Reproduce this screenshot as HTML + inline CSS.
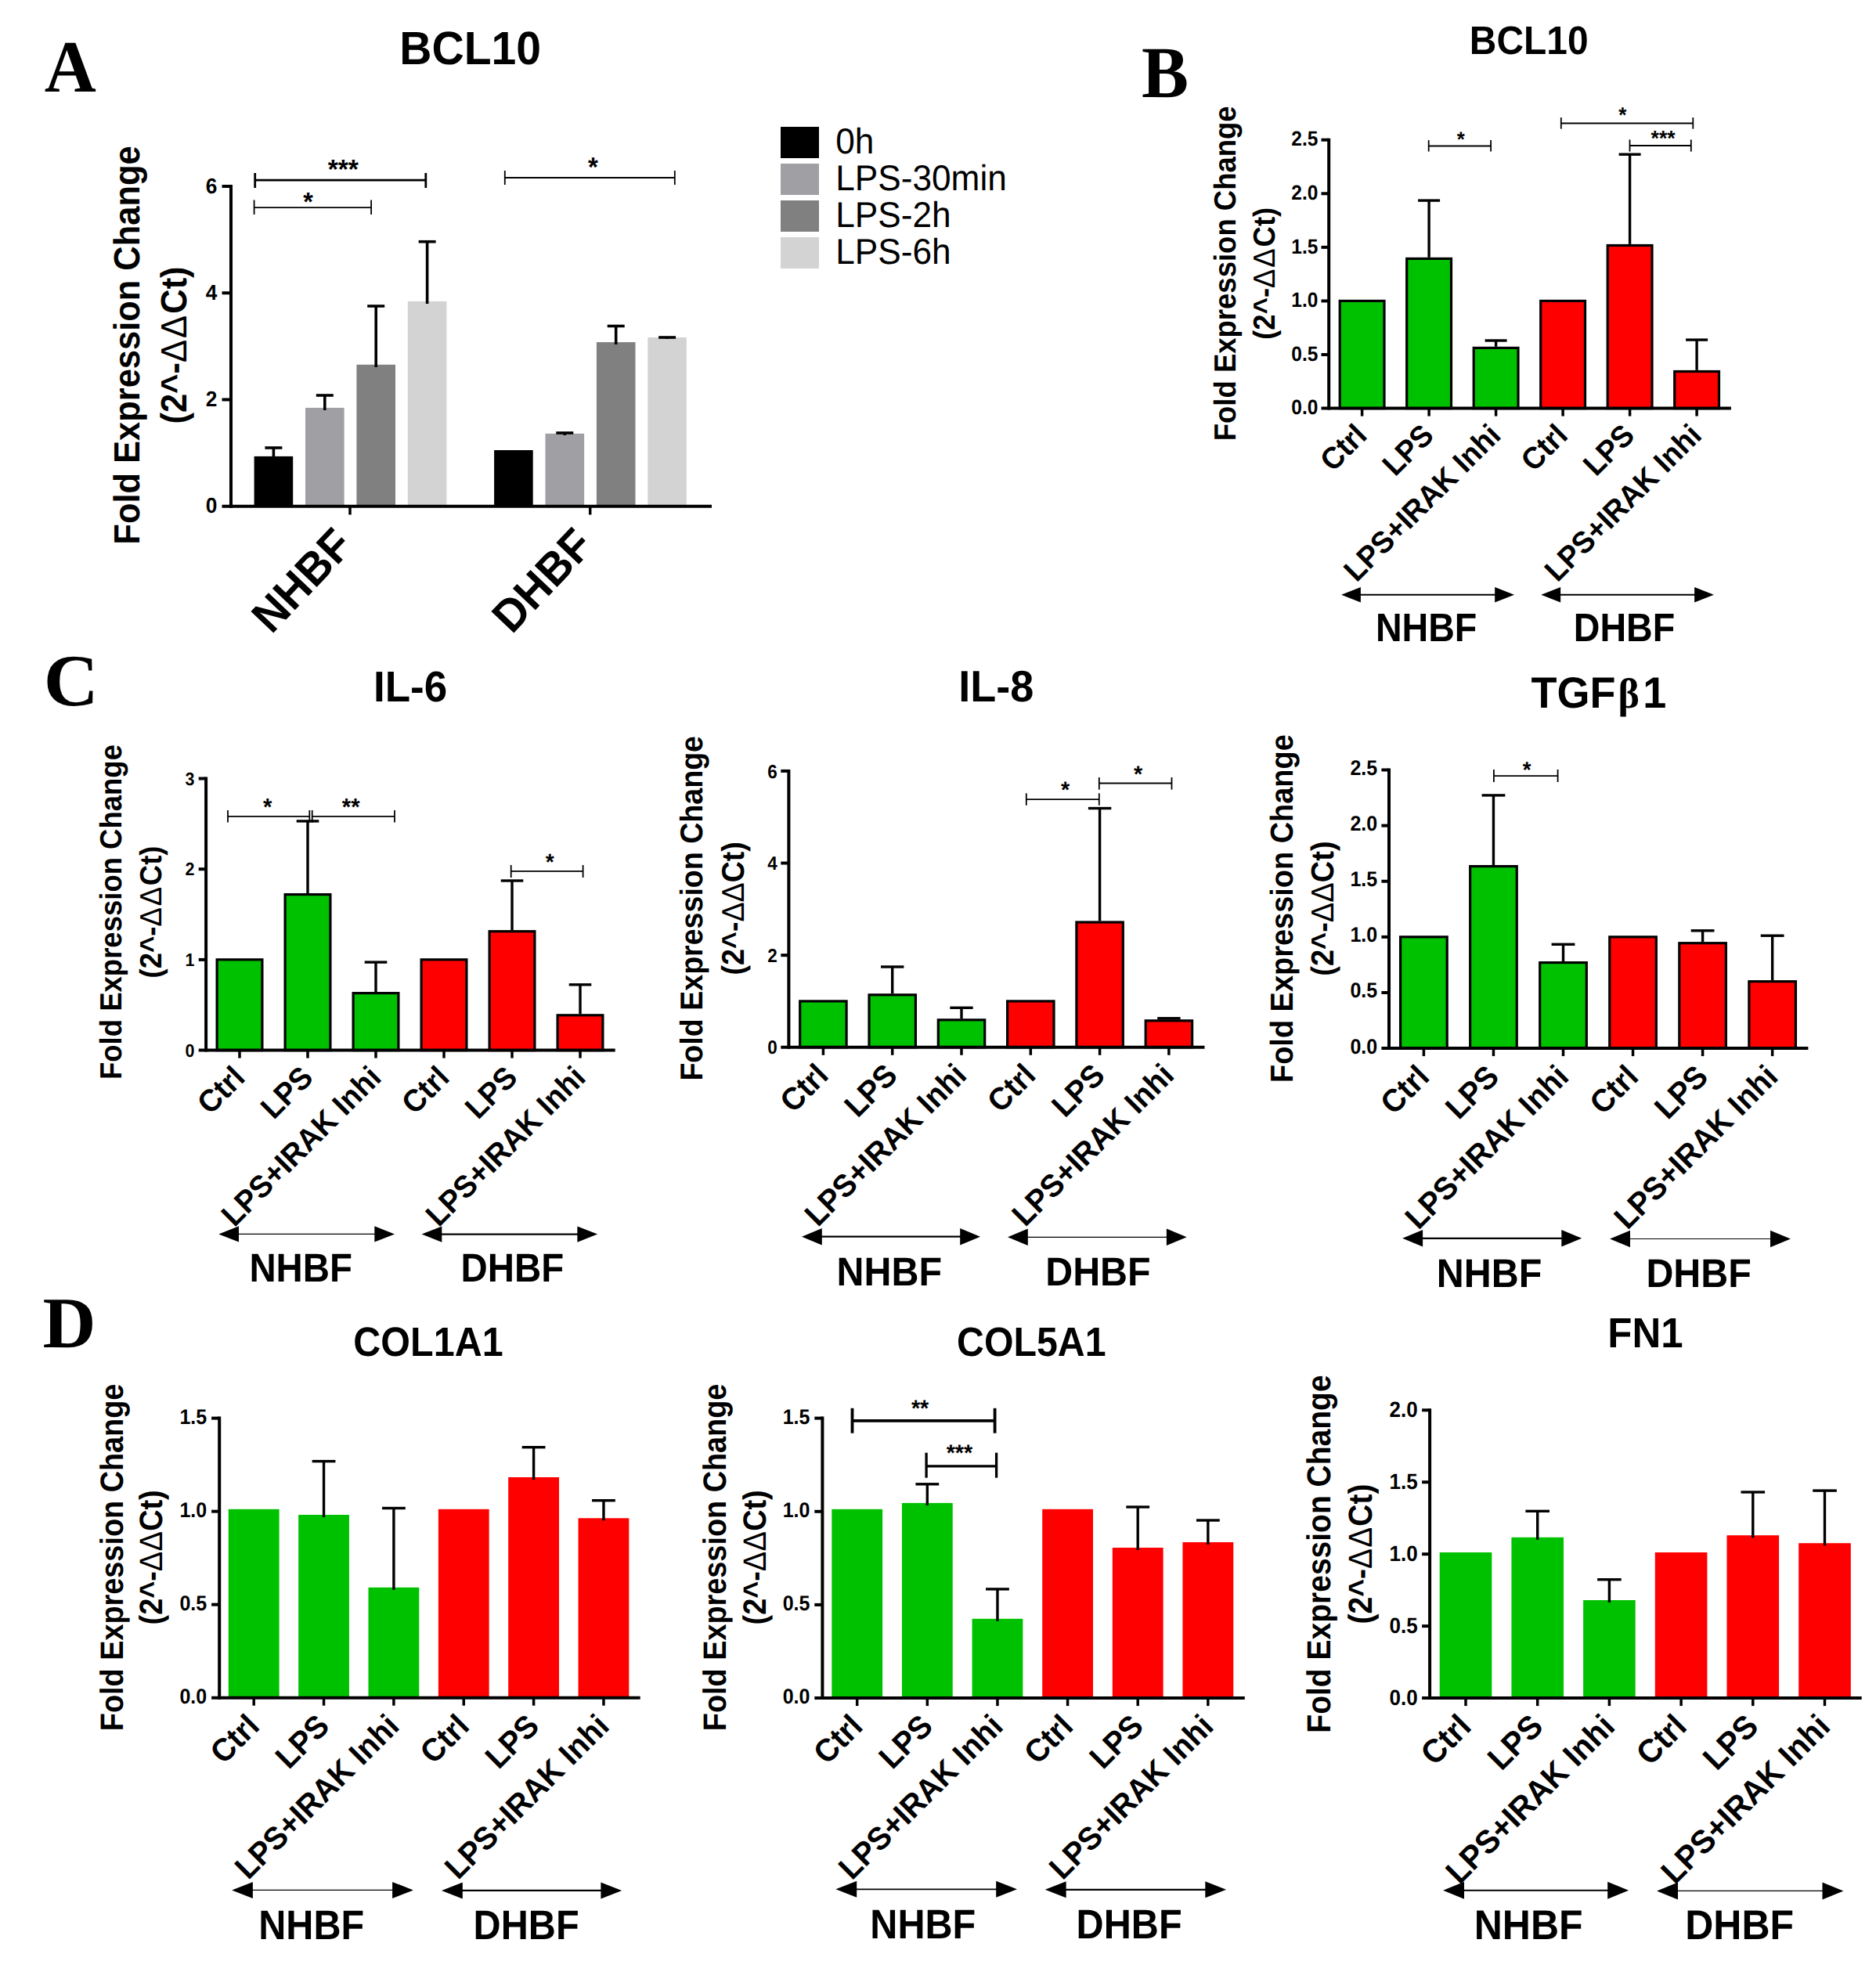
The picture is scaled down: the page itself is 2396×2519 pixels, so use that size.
<!DOCTYPE html>
<html lang="en">
<head>
<meta charset="utf-8">
<title>Figure</title>
<style>
html,body{margin:0;padding:0;background:#fff;}
body{width:2396px;height:2519px;overflow:hidden;}
svg{display:block;}
text{fill:#000;font-kerning:none;}
.s{font-family:"Liberation Sans", Arial, Helvetica, sans-serif;font-weight:bold;}
.r{font-family:"Liberation Serif", "Times New Roman", Times, serif;font-weight:bold;}
</style>
</head>
<body>
<svg width="2396" height="2519" viewBox="0 0 2396 2519" shape-rendering="geometricPrecision" text-rendering="geometricPrecision">
<rect x="0" y="0" width="2396" height="2519" fill="#fff"/>
<text class="r" transform="translate(56.8 116.9) scale(1 1.03)" font-size="91.5">A</text>
<text class="r" transform="translate(1458 124) scale(1 1.04)" font-size="90">B</text>
<text class="r" transform="translate(55.75 900.7) scale(1.078 1.045)" font-size="90">C</text>
<text class="r" transform="translate(54.6 1720.8) scale(1.047 1.032)" font-size="90">D</text>
<rect x="324.6" y="582.9" width="49.6" height="63.8" fill="#000000"/>
<rect x="390" y="520.9" width="49.6" height="125.8" fill="#A0A0A4"/>
<rect x="455.4" y="465.8" width="49.6" height="180.9" fill="#808080"/>
<rect x="520.8" y="384.9" width="49.6" height="261.8" fill="#D3D3D3"/>
<rect x="631.1" y="575" width="49.6" height="71.7" fill="#000000"/>
<rect x="696.5" y="553.9" width="49.6" height="92.8" fill="#A0A0A4"/>
<rect x="761.9" y="437.1" width="49.6" height="209.6" fill="#808080"/>
<rect x="827.3" y="431" width="49.6" height="215.7" fill="#D3D3D3"/>
<line x1="349.4" y1="572" x2="349.4" y2="585" stroke="#000" stroke-width="3.6" stroke-linecap="butt"/>
<line x1="338.4" y1="572" x2="360.4" y2="572" stroke="#000" stroke-width="3.6" stroke-linecap="butt"/>
<line x1="414.8" y1="505" x2="414.8" y2="524" stroke="#000" stroke-width="3.6" stroke-linecap="butt"/>
<line x1="403.8" y1="505" x2="425.8" y2="505" stroke="#000" stroke-width="3.6" stroke-linecap="butt"/>
<line x1="480.2" y1="391" x2="480.2" y2="469" stroke="#000" stroke-width="3.6" stroke-linecap="butt"/>
<line x1="469.2" y1="391" x2="491.2" y2="391" stroke="#000" stroke-width="3.6" stroke-linecap="butt"/>
<line x1="545.6" y1="308.7" x2="545.6" y2="388" stroke="#000" stroke-width="3.6" stroke-linecap="butt"/>
<line x1="534.6" y1="308.7" x2="556.6" y2="308.7" stroke="#000" stroke-width="3.6" stroke-linecap="butt"/>
<line x1="721.3" y1="553" x2="721.3" y2="556" stroke="#000" stroke-width="3.6" stroke-linecap="butt"/>
<line x1="710.3" y1="553" x2="732.3" y2="553" stroke="#000" stroke-width="3.6" stroke-linecap="butt"/>
<line x1="786.7" y1="416.5" x2="786.7" y2="440" stroke="#000" stroke-width="3.6" stroke-linecap="butt"/>
<line x1="775.7" y1="416.5" x2="797.7" y2="416.5" stroke="#000" stroke-width="3.6" stroke-linecap="butt"/>
<line x1="852.1" y1="431" x2="852.1" y2="433" stroke="#000" stroke-width="3.6" stroke-linecap="butt"/>
<line x1="841.1" y1="431" x2="863.1" y2="431" stroke="#000" stroke-width="3.6" stroke-linecap="butt"/>
<line x1="295" y1="236" x2="295" y2="648.7" stroke="#000" stroke-width="4" stroke-linecap="butt"/>
<line x1="283.5" y1="646.7" x2="909" y2="646.7" stroke="#000" stroke-width="4" stroke-linecap="butt"/>
<text class="s" transform="translate(277.3 655.45) scale(1 1.045)" font-size="26.3" text-anchor="end">0</text>
<line x1="283.5" y1="510.47" x2="295" y2="510.47" stroke="#000" stroke-width="4" stroke-linecap="butt"/>
<text class="s" transform="translate(277.3 519.22) scale(1 1.045)" font-size="26.3" text-anchor="end">2</text>
<line x1="283.5" y1="374.23" x2="295" y2="374.23" stroke="#000" stroke-width="4" stroke-linecap="butt"/>
<text class="s" transform="translate(277.3 382.99) scale(1 1.045)" font-size="26.3" text-anchor="end">4</text>
<line x1="283.5" y1="238" x2="295" y2="238" stroke="#000" stroke-width="4" stroke-linecap="butt"/>
<text class="s" transform="translate(277.3 246.75) scale(1 1.045)" font-size="26.3" text-anchor="end">6</text>
<line x1="447" y1="646.7" x2="447" y2="657.5" stroke="#000" stroke-width="3.5" stroke-linecap="butt"/>
<line x1="753.7" y1="646.7" x2="753.7" y2="657.5" stroke="#000" stroke-width="3.5" stroke-linecap="butt"/>
<line x1="325.7" y1="230.1" x2="543.8" y2="230.1" stroke="#000" stroke-width="2.8" stroke-linecap="butt"/>
<line x1="325.7" y1="221" x2="325.7" y2="240" stroke="#000" stroke-width="2.8" stroke-linecap="butt"/>
<line x1="543.8" y1="221" x2="543.8" y2="240" stroke="#000" stroke-width="2.8" stroke-linecap="butt"/>
<line x1="324.6" y1="265.2" x2="474.1" y2="265.2" stroke="#000" stroke-width="1.8" stroke-linecap="butt"/>
<line x1="324.6" y1="255.5" x2="324.6" y2="274" stroke="#000" stroke-width="1.8" stroke-linecap="butt"/>
<line x1="474.1" y1="255.5" x2="474.1" y2="274" stroke="#000" stroke-width="1.8" stroke-linecap="butt"/>
<line x1="644.8" y1="227" x2="861.8" y2="227" stroke="#000" stroke-width="1.8" stroke-linecap="butt"/>
<line x1="644.8" y1="218" x2="644.8" y2="236" stroke="#000" stroke-width="1.8" stroke-linecap="butt"/>
<line x1="861.8" y1="218" x2="861.8" y2="236" stroke="#000" stroke-width="1.8" stroke-linecap="butt"/>
<text class="s" transform="translate(438.3 228.14) scale(1 1.04)" font-size="33.6" text-anchor="middle">***</text>
<text class="s" transform="translate(393.6 269.12) scale(1 1.04)" font-size="32.31" text-anchor="middle">*</text>
<text class="s" transform="translate(757.5 224.67) scale(1 1.04)" font-size="33.09" text-anchor="middle">*</text>
<text class="s" transform="translate(600.6 82.1) scale(1 1.045)" font-size="57.1" text-anchor="middle">BCL10</text>
<text class="s" transform="translate(178.2 441) rotate(-90) scale(1 1.07)" font-size="43.45" text-anchor="middle">Fold Expression Change</text>
<text class="s" transform="translate(237.8 441) rotate(-90) scale(1 1.07)" font-size="43.45" text-anchor="middle">(2^-<tspan style="font-weight:normal" letter-spacing="2.17">ΔΔ</tspan>Ct)</text>
<text class="s" transform="translate(453.3 698.9) rotate(-46.5) scale(1 1.04)" font-size="55.8" text-anchor="end">NHBF</text>
<text class="s" transform="translate(760.3 698.9) rotate(-46.5) scale(1 1.04)" font-size="55.8" text-anchor="end">DHBF</text>
<rect x="997" y="162" width="49" height="40" fill="#000000"/>
<text class="s" transform="translate(1067.2 196) scale(1 1.04)" font-size="44.2" style="font-weight:normal">0h</text>
<rect x="997" y="209" width="49" height="40" fill="#A0A0A4"/>
<text class="s" transform="translate(1067.2 243) scale(1 1.04)" font-size="44.2" style="font-weight:normal">LPS-30min</text>
<rect x="997" y="256" width="49" height="40" fill="#808080"/>
<text class="s" transform="translate(1067.2 290) scale(1 1.04)" font-size="44.2" style="font-weight:normal">LPS-2h</text>
<rect x="997" y="303" width="49" height="40" fill="#D3D3D3"/>
<text class="s" transform="translate(1067.2 337) scale(1 1.04)" font-size="44.2" style="font-weight:normal">LPS-6h</text>
<rect x="1711.2" y="384.4" width="56.8" height="137.2" fill="#00C100" stroke="#000" stroke-width="3.2"/>
<rect x="1796.7" y="330.4" width="56.8" height="191.2" fill="#00C100" stroke="#000" stroke-width="3.2"/>
<rect x="1882.2" y="444.4" width="56.8" height="77.2" fill="#00C100" stroke="#000" stroke-width="3.2"/>
<rect x="1967.7" y="384.4" width="56.8" height="137.2" fill="#FF0000" stroke="#000" stroke-width="3.2"/>
<rect x="2053.2" y="313.5" width="56.8" height="208.1" fill="#FF0000" stroke="#000" stroke-width="3.2"/>
<rect x="2138.7" y="474.5" width="56.8" height="47.1" fill="#FF0000" stroke="#000" stroke-width="3.2"/>
<line x1="1825.1" y1="256.1" x2="1825.1" y2="328.8" stroke="#000" stroke-width="3.4" stroke-linecap="butt"/>
<line x1="1811.1" y1="256.1" x2="1839.1" y2="256.1" stroke="#000" stroke-width="3.4" stroke-linecap="butt"/>
<line x1="1910.6" y1="435" x2="1910.6" y2="442.8" stroke="#000" stroke-width="3.4" stroke-linecap="butt"/>
<line x1="1896.6" y1="435" x2="1924.6" y2="435" stroke="#000" stroke-width="3.4" stroke-linecap="butt"/>
<line x1="2081.6" y1="197.2" x2="2081.6" y2="311.9" stroke="#000" stroke-width="3.4" stroke-linecap="butt"/>
<line x1="2067.6" y1="197.2" x2="2095.6" y2="197.2" stroke="#000" stroke-width="3.4" stroke-linecap="butt"/>
<line x1="2167.1" y1="434.1" x2="2167.1" y2="472.9" stroke="#000" stroke-width="3.4" stroke-linecap="butt"/>
<line x1="2153.1" y1="434.1" x2="2181.1" y2="434.1" stroke="#000" stroke-width="3.4" stroke-linecap="butt"/>
<line x1="1697.2" y1="176.7" x2="1697.2" y2="523.6" stroke="#000" stroke-width="4" stroke-linecap="butt"/>
<line x1="1687.5" y1="521.6" x2="2210.9" y2="521.6" stroke="#000" stroke-width="4" stroke-linecap="butt"/>
<text class="s" transform="translate(1683.4 529.3) scale(1 1.08)" font-size="24.5" text-anchor="end">0.0</text>
<line x1="1687.5" y1="453.02" x2="1697.2" y2="453.02" stroke="#000" stroke-width="4" stroke-linecap="butt"/>
<text class="s" transform="translate(1683.4 460.72) scale(1 1.08)" font-size="24.5" text-anchor="end">0.5</text>
<line x1="1687.5" y1="384.44" x2="1697.2" y2="384.44" stroke="#000" stroke-width="4" stroke-linecap="butt"/>
<text class="s" transform="translate(1683.4 392.14) scale(1 1.08)" font-size="24.5" text-anchor="end">1.0</text>
<line x1="1687.5" y1="315.86" x2="1697.2" y2="315.86" stroke="#000" stroke-width="4" stroke-linecap="butt"/>
<text class="s" transform="translate(1683.4 323.56) scale(1 1.08)" font-size="24.5" text-anchor="end">1.5</text>
<line x1="1687.5" y1="247.28" x2="1697.2" y2="247.28" stroke="#000" stroke-width="4" stroke-linecap="butt"/>
<text class="s" transform="translate(1683.4 254.98) scale(1 1.08)" font-size="24.5" text-anchor="end">2.0</text>
<line x1="1687.5" y1="178.7" x2="1697.2" y2="178.7" stroke="#000" stroke-width="4" stroke-linecap="butt"/>
<text class="s" transform="translate(1683.4 186.4) scale(1 1.08)" font-size="24.5" text-anchor="end">2.5</text>
<line x1="1739.6" y1="521.6" x2="1739.6" y2="531.6" stroke="#000" stroke-width="3.5" stroke-linecap="butt"/>
<line x1="1825.1" y1="521.6" x2="1825.1" y2="531.6" stroke="#000" stroke-width="3.5" stroke-linecap="butt"/>
<line x1="1910.6" y1="521.6" x2="1910.6" y2="531.6" stroke="#000" stroke-width="3.5" stroke-linecap="butt"/>
<line x1="1996.1" y1="521.6" x2="1996.1" y2="531.6" stroke="#000" stroke-width="3.5" stroke-linecap="butt"/>
<line x1="2081.6" y1="521.6" x2="2081.6" y2="531.6" stroke="#000" stroke-width="3.5" stroke-linecap="butt"/>
<line x1="2167.1" y1="521.6" x2="2167.1" y2="531.6" stroke="#000" stroke-width="3.5" stroke-linecap="butt"/>
<text class="s" transform="translate(1747.8 558.26) rotate(-45) scale(1 1.04)" font-size="37.5" text-anchor="end">Ctrl</text>
<text class="s" transform="translate(1833.3 558.26) rotate(-45) scale(1 1.04)" font-size="37.5" text-anchor="end">LPS</text>
<text class="s" transform="translate(1918.8 558.26) rotate(-45) scale(1 1.04)" font-size="37.5" text-anchor="end">LPS+IRAK Inhi</text>
<text class="s" transform="translate(2004.3 558.26) rotate(-45) scale(1 1.04)" font-size="37.5" text-anchor="end">Ctrl</text>
<text class="s" transform="translate(2089.8 558.26) rotate(-45) scale(1 1.04)" font-size="37.5" text-anchor="end">LPS</text>
<text class="s" transform="translate(2175.3 558.26) rotate(-45) scale(1 1.04)" font-size="37.5" text-anchor="end">LPS+IRAK Inhi</text>
<line x1="1736.9" y1="759.8" x2="1910.2" y2="759.8" stroke="#000" stroke-width="2" stroke-linecap="butt"/>
<polygon points="1713.1,759.8 1737.9,750.1 1737.9,769.5" fill="#000"/>
<polygon points="1934,759.8 1909.2,750.1 1909.2,769.5" fill="#000"/>
<line x1="1992.1" y1="759.8" x2="2165.1" y2="759.8" stroke="#000" stroke-width="2" stroke-linecap="butt"/>
<polygon points="1968.3,759.8 1993.1,750.1 1993.1,769.5" fill="#000"/>
<polygon points="2188.9,759.8 2164.1,750.1 2164.1,769.5" fill="#000"/>
<text class="s" transform="translate(1821.6 819.3) scale(1 1.09)" font-size="46.6" text-anchor="middle">NHBF</text>
<text class="s" transform="translate(2074.5 819.3) scale(1 1.09)" font-size="46.6" text-anchor="middle">DHBF</text>
<text class="s" transform="translate(1578.2 349.3) rotate(-90) scale(1 1.07)" font-size="36.5" text-anchor="middle">Fold Expression Change</text>
<text class="s" transform="translate(1628 349.3) rotate(-90) scale(1 1.07)" font-size="36.5" text-anchor="middle">(2^-<tspan style="font-weight:normal" letter-spacing="1.83">ΔΔ</tspan>Ct)</text>
<text class="s" transform="translate(1952.7 68.8) scale(1 1.065)" font-size="47.9" text-anchor="middle">BCL10</text>
<line x1="1824.7" y1="186.5" x2="1904.1" y2="186.5" stroke="#000" stroke-width="1.8" stroke-linecap="butt"/>
<line x1="1824.7" y1="179.1" x2="1824.7" y2="193.6" stroke="#000" stroke-width="1.8" stroke-linecap="butt"/>
<line x1="1904.1" y1="179.1" x2="1904.1" y2="193.6" stroke="#000" stroke-width="1.8" stroke-linecap="butt"/>
<line x1="1993.8" y1="157.5" x2="2162.3" y2="157.5" stroke="#000" stroke-width="1.8" stroke-linecap="butt"/>
<line x1="1993.8" y1="150.1" x2="1993.8" y2="164.6" stroke="#000" stroke-width="1.8" stroke-linecap="butt"/>
<line x1="2162.3" y1="150.1" x2="2162.3" y2="164.6" stroke="#000" stroke-width="1.8" stroke-linecap="butt"/>
<line x1="2081.5" y1="186" x2="2159.8" y2="186" stroke="#000" stroke-width="1.8" stroke-linecap="butt"/>
<line x1="2081.5" y1="178.4" x2="2081.5" y2="193.6" stroke="#000" stroke-width="1.8" stroke-linecap="butt"/>
<line x1="2159.8" y1="178.4" x2="2159.8" y2="193.6" stroke="#000" stroke-width="1.8" stroke-linecap="butt"/>
<text class="s" transform="translate(1865.8 187.09) scale(1 1.04)" font-size="25.85" text-anchor="middle">*</text>
<text class="s" transform="translate(2072.3 156.48) scale(1 1.04)" font-size="26.11" text-anchor="middle">*</text>
<text class="s" transform="translate(2124.1 186.35) scale(1 1.04)" font-size="26.62" text-anchor="middle">***</text>
<rect x="277.1" y="1225.8" width="57.8" height="115.8" fill="#00C100" stroke="#000" stroke-width="3.2"/>
<rect x="364.1" y="1142.6" width="57.8" height="199" fill="#00C100" stroke="#000" stroke-width="3.2"/>
<rect x="451.1" y="1268.6" width="57.8" height="73" fill="#00C100" stroke="#000" stroke-width="3.2"/>
<rect x="538.1" y="1225.8" width="57.8" height="115.8" fill="#FF0000" stroke="#000" stroke-width="3.2"/>
<rect x="625.1" y="1189.7" width="57.8" height="151.9" fill="#FF0000" stroke="#000" stroke-width="3.2"/>
<rect x="712.1" y="1296.8" width="57.8" height="44.8" fill="#FF0000" stroke="#000" stroke-width="3.2"/>
<line x1="393" y1="1048.9" x2="393" y2="1141" stroke="#000" stroke-width="3.4" stroke-linecap="butt"/>
<line x1="378.7" y1="1048.9" x2="407.3" y2="1048.9" stroke="#000" stroke-width="3.4" stroke-linecap="butt"/>
<line x1="480" y1="1229.1" x2="480" y2="1267" stroke="#000" stroke-width="3.4" stroke-linecap="butt"/>
<line x1="465.7" y1="1229.1" x2="494.3" y2="1229.1" stroke="#000" stroke-width="3.4" stroke-linecap="butt"/>
<line x1="654" y1="1125" x2="654" y2="1188.1" stroke="#000" stroke-width="3.4" stroke-linecap="butt"/>
<line x1="639.7" y1="1125" x2="668.3" y2="1125" stroke="#000" stroke-width="3.4" stroke-linecap="butt"/>
<line x1="741" y1="1257.8" x2="741" y2="1295.2" stroke="#000" stroke-width="3.4" stroke-linecap="butt"/>
<line x1="726.7" y1="1257.8" x2="755.3" y2="1257.8" stroke="#000" stroke-width="3.4" stroke-linecap="butt"/>
<line x1="263.1" y1="992.5" x2="263.1" y2="1343.6" stroke="#000" stroke-width="4" stroke-linecap="butt"/>
<line x1="253.7" y1="1341.6" x2="785.7" y2="1341.6" stroke="#000" stroke-width="4" stroke-linecap="butt"/>
<text class="s" transform="translate(248.5 1349.79) scale(1 1.08)" font-size="21.5" text-anchor="end">0</text>
<line x1="253.7" y1="1225.9" x2="263.1" y2="1225.9" stroke="#000" stroke-width="4" stroke-linecap="butt"/>
<text class="s" transform="translate(248.5 1234.09) scale(1 1.08)" font-size="21.5" text-anchor="end">1</text>
<line x1="253.7" y1="1110.2" x2="263.1" y2="1110.2" stroke="#000" stroke-width="4" stroke-linecap="butt"/>
<text class="s" transform="translate(248.5 1118.39) scale(1 1.08)" font-size="21.5" text-anchor="end">2</text>
<line x1="253.7" y1="994.5" x2="263.1" y2="994.5" stroke="#000" stroke-width="4" stroke-linecap="butt"/>
<text class="s" transform="translate(248.5 1002.69) scale(1 1.08)" font-size="21.5" text-anchor="end">3</text>
<line x1="306" y1="1341.6" x2="306" y2="1351.6" stroke="#000" stroke-width="3.5" stroke-linecap="butt"/>
<line x1="393" y1="1341.6" x2="393" y2="1351.6" stroke="#000" stroke-width="3.5" stroke-linecap="butt"/>
<line x1="480" y1="1341.6" x2="480" y2="1351.6" stroke="#000" stroke-width="3.5" stroke-linecap="butt"/>
<line x1="567" y1="1341.6" x2="567" y2="1351.6" stroke="#000" stroke-width="3.5" stroke-linecap="butt"/>
<line x1="654" y1="1341.6" x2="654" y2="1351.6" stroke="#000" stroke-width="3.5" stroke-linecap="butt"/>
<line x1="741" y1="1341.6" x2="741" y2="1351.6" stroke="#000" stroke-width="3.5" stroke-linecap="butt"/>
<text class="s" transform="translate(314.93 1378.79) rotate(-45) scale(1 1.04)" font-size="38.2" text-anchor="end">Ctrl</text>
<text class="s" transform="translate(401.93 1378.79) rotate(-45) scale(1 1.04)" font-size="38.2" text-anchor="end">LPS</text>
<text class="s" transform="translate(488.93 1378.79) rotate(-45) scale(1 1.04)" font-size="38.2" text-anchor="end">LPS+IRAK Inhi</text>
<text class="s" transform="translate(575.93 1378.79) rotate(-45) scale(1 1.04)" font-size="38.2" text-anchor="end">Ctrl</text>
<text class="s" transform="translate(662.93 1378.79) rotate(-45) scale(1 1.04)" font-size="38.2" text-anchor="end">LPS</text>
<text class="s" transform="translate(749.93 1378.79) rotate(-45) scale(1 1.04)" font-size="38.2" text-anchor="end">LPS+IRAK Inhi</text>
<line x1="304" y1="1576.4" x2="479.3" y2="1576.4" stroke="#000" stroke-width="1.2" stroke-linecap="butt"/>
<polygon points="279.3,1576.4 305,1566.2 305,1586.6" fill="#000"/>
<polygon points="504,1576.4 478.3,1566.2 478.3,1586.6" fill="#000"/>
<line x1="563.3" y1="1576.6" x2="738.4" y2="1576.6" stroke="#000" stroke-width="2.2" stroke-linecap="butt"/>
<polygon points="538.6,1576.6 564.3,1566.4 564.3,1586.8" fill="#000"/>
<polygon points="763.1,1576.6 737.4,1566.4 737.4,1586.8" fill="#000"/>
<text class="s" transform="translate(384.2 1636.9) scale(1 1.08)" font-size="47.4" text-anchor="middle">NHBF</text>
<text class="s" transform="translate(654.3 1636.9) scale(1 1.08)" font-size="47.4" text-anchor="middle">DHBF</text>
<text class="s" transform="translate(155.3 1165) rotate(-90) scale(1 1.07)" font-size="36.5" text-anchor="middle">Fold Expression Change</text>
<text class="s" transform="translate(206.1 1165) rotate(-90) scale(1 1.07)" font-size="36.5" text-anchor="middle">(2^-<tspan style="font-weight:normal" letter-spacing="1.83">ΔΔ</tspan>Ct)</text>
<text class="s" transform="translate(524.1 895.5) scale(1 1.04)" font-size="53" text-anchor="middle">IL-6</text>
<line x1="291" y1="1042.9" x2="395.3" y2="1042.9" stroke="#000" stroke-width="1.8" stroke-linecap="butt"/>
<line x1="291" y1="1035" x2="291" y2="1050.6" stroke="#000" stroke-width="1.8" stroke-linecap="butt"/>
<line x1="395.3" y1="1035" x2="395.3" y2="1050.6" stroke="#000" stroke-width="1.8" stroke-linecap="butt"/>
<line x1="398.7" y1="1042.9" x2="504" y2="1042.9" stroke="#000" stroke-width="1.8" stroke-linecap="butt"/>
<line x1="398.7" y1="1035" x2="398.7" y2="1050.6" stroke="#000" stroke-width="1.8" stroke-linecap="butt"/>
<line x1="504" y1="1035" x2="504" y2="1050.6" stroke="#000" stroke-width="1.8" stroke-linecap="butt"/>
<line x1="652.7" y1="1112.9" x2="744.6" y2="1112.9" stroke="#000" stroke-width="1.8" stroke-linecap="butt"/>
<line x1="652.7" y1="1105" x2="652.7" y2="1121" stroke="#000" stroke-width="1.8" stroke-linecap="butt"/>
<line x1="744.6" y1="1105" x2="744.6" y2="1121" stroke="#000" stroke-width="1.8" stroke-linecap="butt"/>
<text class="s" transform="translate(341.8 1041.4) scale(1 1.04)" font-size="29.21" text-anchor="middle">*</text>
<text class="s" transform="translate(448.2 1041.4) scale(1 1.04)" font-size="29.21" text-anchor="middle">**</text>
<text class="s" transform="translate(702.2 1111.06) scale(1 1.04)" font-size="28.17" text-anchor="middle">*</text>
<rect x="1021.7" y="1278.9" width="59.4" height="58.9" fill="#00C100" stroke="#000" stroke-width="3.2"/>
<rect x="1110" y="1270.8" width="59.4" height="67" fill="#00C100" stroke="#000" stroke-width="3.2"/>
<rect x="1198.3" y="1302.8" width="59.4" height="35" fill="#00C100" stroke="#000" stroke-width="3.2"/>
<rect x="1286.6" y="1278.9" width="59.4" height="58.9" fill="#FF0000" stroke="#000" stroke-width="3.2"/>
<rect x="1374.9" y="1178" width="59.4" height="159.8" fill="#FF0000" stroke="#000" stroke-width="3.2"/>
<rect x="1463.2" y="1303.8" width="59.4" height="34" fill="#FF0000" stroke="#000" stroke-width="3.2"/>
<line x1="1139.7" y1="1235" x2="1139.7" y2="1269.2" stroke="#000" stroke-width="3.4" stroke-linecap="butt"/>
<line x1="1125" y1="1235" x2="1154.4" y2="1235" stroke="#000" stroke-width="3.4" stroke-linecap="butt"/>
<line x1="1228" y1="1287.3" x2="1228" y2="1301.2" stroke="#000" stroke-width="3.4" stroke-linecap="butt"/>
<line x1="1213.3" y1="1287.3" x2="1242.7" y2="1287.3" stroke="#000" stroke-width="3.4" stroke-linecap="butt"/>
<line x1="1404.6" y1="1032.5" x2="1404.6" y2="1176.4" stroke="#000" stroke-width="3.4" stroke-linecap="butt"/>
<line x1="1389.9" y1="1032.5" x2="1419.3" y2="1032.5" stroke="#000" stroke-width="3.4" stroke-linecap="butt"/>
<line x1="1492.9" y1="1300.8" x2="1492.9" y2="1302.2" stroke="#000" stroke-width="3.4" stroke-linecap="butt"/>
<line x1="1478.2" y1="1300.8" x2="1507.6" y2="1300.8" stroke="#000" stroke-width="3.4" stroke-linecap="butt"/>
<line x1="1007.4" y1="982.9" x2="1007.4" y2="1339.8" stroke="#000" stroke-width="4" stroke-linecap="butt"/>
<line x1="997.3" y1="1337.8" x2="1538.5" y2="1337.8" stroke="#000" stroke-width="4" stroke-linecap="butt"/>
<text class="s" transform="translate(992.8 1346.46) scale(1 1.08)" font-size="22.5" text-anchor="end">0</text>
<line x1="997.3" y1="1220.17" x2="1007.4" y2="1220.17" stroke="#000" stroke-width="4" stroke-linecap="butt"/>
<text class="s" transform="translate(992.8 1228.83) scale(1 1.08)" font-size="22.5" text-anchor="end">2</text>
<line x1="997.3" y1="1102.53" x2="1007.4" y2="1102.53" stroke="#000" stroke-width="4" stroke-linecap="butt"/>
<text class="s" transform="translate(992.8 1111.19) scale(1 1.08)" font-size="22.5" text-anchor="end">4</text>
<line x1="997.3" y1="984.9" x2="1007.4" y2="984.9" stroke="#000" stroke-width="4" stroke-linecap="butt"/>
<text class="s" transform="translate(992.8 993.56) scale(1 1.08)" font-size="22.5" text-anchor="end">6</text>
<line x1="1051.4" y1="1337.8" x2="1051.4" y2="1347.8" stroke="#000" stroke-width="3.5" stroke-linecap="butt"/>
<line x1="1139.7" y1="1337.8" x2="1139.7" y2="1347.8" stroke="#000" stroke-width="3.5" stroke-linecap="butt"/>
<line x1="1228" y1="1337.8" x2="1228" y2="1347.8" stroke="#000" stroke-width="3.5" stroke-linecap="butt"/>
<line x1="1316.3" y1="1337.8" x2="1316.3" y2="1347.8" stroke="#000" stroke-width="3.5" stroke-linecap="butt"/>
<line x1="1404.6" y1="1337.8" x2="1404.6" y2="1347.8" stroke="#000" stroke-width="3.5" stroke-linecap="butt"/>
<line x1="1492.9" y1="1337.8" x2="1492.9" y2="1347.8" stroke="#000" stroke-width="3.5" stroke-linecap="butt"/>
<text class="s" transform="translate(1060.06 1375.9) rotate(-45) scale(1 1.04)" font-size="38.7" text-anchor="end">Ctrl</text>
<text class="s" transform="translate(1148.36 1375.9) rotate(-45) scale(1 1.04)" font-size="38.7" text-anchor="end">LPS</text>
<text class="s" transform="translate(1236.66 1375.9) rotate(-45) scale(1 1.04)" font-size="38.7" text-anchor="end">LPS+IRAK Inhi</text>
<text class="s" transform="translate(1324.96 1375.9) rotate(-45) scale(1 1.04)" font-size="38.7" text-anchor="end">Ctrl</text>
<text class="s" transform="translate(1413.26 1375.9) rotate(-45) scale(1 1.04)" font-size="38.7" text-anchor="end">LPS</text>
<text class="s" transform="translate(1501.56 1375.9) rotate(-45) scale(1 1.04)" font-size="38.7" text-anchor="end">LPS+IRAK Inhi</text>
<line x1="1048.8" y1="1579.7" x2="1227.2" y2="1579.7" stroke="#000" stroke-width="2.2" stroke-linecap="butt"/>
<polygon points="1024,1579.7 1049.8,1569 1049.8,1590.4" fill="#000"/>
<polygon points="1252,1579.7 1226.2,1569 1226.2,1590.4" fill="#000"/>
<line x1="1311.8" y1="1580.3" x2="1490.9" y2="1580.3" stroke="#000" stroke-width="1.2" stroke-linecap="butt"/>
<polygon points="1287,1580.3 1312.8,1569.6 1312.8,1591" fill="#000"/>
<polygon points="1515.7,1580.3 1489.9,1569.6 1489.9,1591" fill="#000"/>
<text class="s" transform="translate(1135.8 1641.8) scale(1 1.06)" font-size="48.4" text-anchor="middle">NHBF</text>
<text class="s" transform="translate(1402.4 1641.8) scale(1 1.06)" font-size="48.4" text-anchor="middle">DHBF</text>
<text class="s" transform="translate(896.9 1160.3) rotate(-90) scale(1 1.07)" font-size="37.6" text-anchor="middle">Fold Expression Change</text>
<text class="s" transform="translate(949.9 1160.3) rotate(-90) scale(1 1.07)" font-size="37.6" text-anchor="middle">(2^-<tspan style="font-weight:normal" letter-spacing="0">ΔΔ</tspan>Ct)</text>
<text class="s" transform="translate(1272.3 896.1) scale(1 1.042)" font-size="54" text-anchor="middle">IL-8</text>
<line x1="1310.8" y1="1021.2" x2="1403.8" y2="1021.2" stroke="#000" stroke-width="1.8" stroke-linecap="butt"/>
<line x1="1310.8" y1="1013.3" x2="1310.8" y2="1028.7" stroke="#000" stroke-width="1.8" stroke-linecap="butt"/>
<line x1="1403.8" y1="1013.3" x2="1403.8" y2="1028.7" stroke="#000" stroke-width="1.8" stroke-linecap="butt"/>
<line x1="1403.8" y1="1000.5" x2="1496.5" y2="1000.5" stroke="#000" stroke-width="1.8" stroke-linecap="butt"/>
<line x1="1403.8" y1="993" x2="1403.8" y2="1008.6" stroke="#000" stroke-width="1.8" stroke-linecap="butt"/>
<line x1="1496.5" y1="993" x2="1496.5" y2="1008.6" stroke="#000" stroke-width="1.8" stroke-linecap="butt"/>
<text class="s" transform="translate(1360.6 1018.93) scale(1 1.04)" font-size="28.69" text-anchor="middle">*</text>
<text class="s" transform="translate(1453.7 998.63) scale(1 1.04)" font-size="28.69" text-anchor="middle">*</text>
<rect x="1788.6" y="1196.8" width="59.6" height="142.3" fill="#00C100" stroke="#000" stroke-width="3.2"/>
<rect x="1877.65" y="1106.6" width="59.6" height="232.5" fill="#00C100" stroke="#000" stroke-width="3.2"/>
<rect x="1966.7" y="1229.6" width="59.6" height="109.5" fill="#00C100" stroke="#000" stroke-width="3.2"/>
<rect x="2055.75" y="1196.8" width="59.6" height="142.3" fill="#FF0000" stroke="#000" stroke-width="3.2"/>
<rect x="2144.8" y="1204.7" width="59.6" height="134.4" fill="#FF0000" stroke="#000" stroke-width="3.2"/>
<rect x="2233.85" y="1253.7" width="59.6" height="85.4" fill="#FF0000" stroke="#000" stroke-width="3.2"/>
<line x1="1907.45" y1="1015.9" x2="1907.45" y2="1105" stroke="#000" stroke-width="3.4" stroke-linecap="butt"/>
<line x1="1892.55" y1="1015.9" x2="1922.35" y2="1015.9" stroke="#000" stroke-width="3.4" stroke-linecap="butt"/>
<line x1="1996.5" y1="1206.3" x2="1996.5" y2="1228" stroke="#000" stroke-width="3.4" stroke-linecap="butt"/>
<line x1="1981.6" y1="1206.3" x2="2011.4" y2="1206.3" stroke="#000" stroke-width="3.4" stroke-linecap="butt"/>
<line x1="2174.6" y1="1188.8" x2="2174.6" y2="1203.1" stroke="#000" stroke-width="3.4" stroke-linecap="butt"/>
<line x1="2159.7" y1="1188.8" x2="2189.5" y2="1188.8" stroke="#000" stroke-width="3.4" stroke-linecap="butt"/>
<line x1="2263.65" y1="1195.2" x2="2263.65" y2="1252.1" stroke="#000" stroke-width="3.4" stroke-linecap="butt"/>
<line x1="2248.75" y1="1195.2" x2="2278.55" y2="1195.2" stroke="#000" stroke-width="3.4" stroke-linecap="butt"/>
<line x1="1774" y1="981.5" x2="1774" y2="1341.1" stroke="#000" stroke-width="4" stroke-linecap="butt"/>
<line x1="1764.4" y1="1339.1" x2="2309.4" y2="1339.1" stroke="#000" stroke-width="4" stroke-linecap="butt"/>
<text class="s" transform="translate(1759.2 1345.59) scale(1 1.08)" font-size="25" text-anchor="end">0.0</text>
<line x1="1764.4" y1="1267.98" x2="1774" y2="1267.98" stroke="#000" stroke-width="4" stroke-linecap="butt"/>
<text class="s" transform="translate(1759.2 1274.47) scale(1 1.08)" font-size="25" text-anchor="end">0.5</text>
<line x1="1764.4" y1="1196.86" x2="1774" y2="1196.86" stroke="#000" stroke-width="4" stroke-linecap="butt"/>
<text class="s" transform="translate(1759.2 1203.35) scale(1 1.08)" font-size="25" text-anchor="end">1.0</text>
<line x1="1764.4" y1="1125.74" x2="1774" y2="1125.74" stroke="#000" stroke-width="4" stroke-linecap="butt"/>
<text class="s" transform="translate(1759.2 1132.23) scale(1 1.08)" font-size="25" text-anchor="end">1.5</text>
<line x1="1764.4" y1="1054.62" x2="1774" y2="1054.62" stroke="#000" stroke-width="4" stroke-linecap="butt"/>
<text class="s" transform="translate(1759.2 1061.11) scale(1 1.08)" font-size="25" text-anchor="end">2.0</text>
<line x1="1764.4" y1="983.5" x2="1774" y2="983.5" stroke="#000" stroke-width="4" stroke-linecap="butt"/>
<text class="s" transform="translate(1759.2 989.99) scale(1 1.08)" font-size="25" text-anchor="end">2.5</text>
<line x1="1818.4" y1="1339.1" x2="1818.4" y2="1349.1" stroke="#000" stroke-width="3.5" stroke-linecap="butt"/>
<line x1="1907.45" y1="1339.1" x2="1907.45" y2="1349.1" stroke="#000" stroke-width="3.5" stroke-linecap="butt"/>
<line x1="1996.5" y1="1339.1" x2="1996.5" y2="1349.1" stroke="#000" stroke-width="3.5" stroke-linecap="butt"/>
<line x1="2085.55" y1="1339.1" x2="2085.55" y2="1349.1" stroke="#000" stroke-width="3.5" stroke-linecap="butt"/>
<line x1="2174.6" y1="1339.1" x2="2174.6" y2="1349.1" stroke="#000" stroke-width="3.5" stroke-linecap="butt"/>
<line x1="2263.65" y1="1339.1" x2="2263.65" y2="1349.1" stroke="#000" stroke-width="3.5" stroke-linecap="butt"/>
<text class="s" transform="translate(1827.58 1377.8) rotate(-45) scale(1 1.04)" font-size="39.1" text-anchor="end">Ctrl</text>
<text class="s" transform="translate(1916.63 1377.8) rotate(-45) scale(1 1.04)" font-size="39.1" text-anchor="end">LPS</text>
<text class="s" transform="translate(2005.68 1377.8) rotate(-45) scale(1 1.04)" font-size="39.1" text-anchor="end">LPS+IRAK Inhi</text>
<text class="s" transform="translate(2094.73 1377.8) rotate(-45) scale(1 1.04)" font-size="39.1" text-anchor="end">Ctrl</text>
<text class="s" transform="translate(2183.78 1377.8) rotate(-45) scale(1 1.04)" font-size="39.1" text-anchor="end">LPS</text>
<text class="s" transform="translate(2272.83 1377.8) rotate(-45) scale(1 1.04)" font-size="39.1" text-anchor="end">LPS+IRAK Inhi</text>
<line x1="1816.1" y1="1581.8" x2="1995.3" y2="1581.8" stroke="#000" stroke-width="2.2" stroke-linecap="butt"/>
<polygon points="1791.2,1581.8 1817.1,1571.1 1817.1,1592.5" fill="#000"/>
<polygon points="2020.2,1581.8 1994.3,1571.1 1994.3,1592.5" fill="#000"/>
<line x1="2081" y1="1582.5" x2="2262" y2="1582.5" stroke="#000" stroke-width="1.2" stroke-linecap="butt"/>
<polygon points="2056.1,1582.5 2082,1571.8 2082,1593.2" fill="#000"/>
<polygon points="2286.9,1582.5 2261,1571.8 2261,1593.2" fill="#000"/>
<text class="s" transform="translate(1902 1643.8) scale(1 1.06)" font-size="48.4" text-anchor="middle">NHBF</text>
<text class="s" transform="translate(2169.6 1643.8) scale(1 1.06)" font-size="48.4" text-anchor="middle">DHBF</text>
<text class="s" transform="translate(1650.6 1160.6) rotate(-90) scale(1 1.07)" font-size="37.95" text-anchor="middle">Fold Expression Change</text>
<text class="s" transform="translate(1702.6 1160.6) rotate(-90) scale(1 1.07)" font-size="37.95" text-anchor="middle">(2^-<tspan style="font-weight:normal" letter-spacing="0.19">ΔΔ</tspan>Ct)</text>
<text class="s" transform="translate(1955.4 904.4) scale(1 1.035)" font-size="54">TGF<tspan class="r" font-size="52" dx="3">β</tspan><tspan dx="4.5">1</tspan></text>
<line x1="1907.9" y1="991.1" x2="1989.6" y2="991.1" stroke="#000" stroke-width="1.8" stroke-linecap="butt"/>
<line x1="1907.9" y1="983" x2="1907.9" y2="999" stroke="#000" stroke-width="1.8" stroke-linecap="butt"/>
<line x1="1989.6" y1="983" x2="1989.6" y2="999" stroke="#000" stroke-width="1.8" stroke-linecap="butt"/>
<text class="s" transform="translate(1950.1 992.99) scale(1 1.04)" font-size="27.66" text-anchor="middle">*</text>
<rect x="291.8" y="1927.8" width="64.8" height="240.9" fill="#00C100"/>
<rect x="381.15" y="1935" width="64.8" height="233.7" fill="#00C100"/>
<rect x="470.5" y="2027.8" width="64.8" height="140.9" fill="#00C100"/>
<rect x="559.85" y="1927.8" width="64.8" height="240.9" fill="#FF0000"/>
<rect x="649.2" y="1887" width="64.8" height="281.7" fill="#FF0000"/>
<rect x="738.55" y="1939.3" width="64.8" height="229.4" fill="#FF0000"/>
<line x1="413.55" y1="1866.6" x2="413.55" y2="1938" stroke="#000" stroke-width="3.4" stroke-linecap="butt"/>
<line x1="398.65" y1="1866.6" x2="428.45" y2="1866.6" stroke="#000" stroke-width="3.4" stroke-linecap="butt"/>
<line x1="502.9" y1="1926.5" x2="502.9" y2="2030.8" stroke="#000" stroke-width="3.4" stroke-linecap="butt"/>
<line x1="488" y1="1926.5" x2="517.8" y2="1926.5" stroke="#000" stroke-width="3.4" stroke-linecap="butt"/>
<line x1="681.6" y1="1848.7" x2="681.6" y2="1890" stroke="#000" stroke-width="3.4" stroke-linecap="butt"/>
<line x1="666.7" y1="1848.7" x2="696.5" y2="1848.7" stroke="#000" stroke-width="3.4" stroke-linecap="butt"/>
<line x1="770.95" y1="1916.7" x2="770.95" y2="1942.3" stroke="#000" stroke-width="3.4" stroke-linecap="butt"/>
<line x1="756.05" y1="1916.7" x2="785.85" y2="1916.7" stroke="#000" stroke-width="3.4" stroke-linecap="butt"/>
<line x1="280.2" y1="1809.6" x2="280.2" y2="2170.7" stroke="#000" stroke-width="4" stroke-linecap="butt"/>
<line x1="270.1" y1="2168.7" x2="817.7" y2="2168.7" stroke="#000" stroke-width="4" stroke-linecap="butt"/>
<text class="s" transform="translate(264.2 2175.69) scale(1 1.08)" font-size="25" text-anchor="end">0.0</text>
<line x1="270.1" y1="2049.67" x2="280.2" y2="2049.67" stroke="#000" stroke-width="4" stroke-linecap="butt"/>
<text class="s" transform="translate(264.2 2056.65) scale(1 1.08)" font-size="25" text-anchor="end">0.5</text>
<line x1="270.1" y1="1930.63" x2="280.2" y2="1930.63" stroke="#000" stroke-width="4" stroke-linecap="butt"/>
<text class="s" transform="translate(264.2 1937.62) scale(1 1.08)" font-size="25" text-anchor="end">1.0</text>
<line x1="270.1" y1="1811.6" x2="280.2" y2="1811.6" stroke="#000" stroke-width="4" stroke-linecap="butt"/>
<text class="s" transform="translate(264.2 1818.59) scale(1 1.08)" font-size="25" text-anchor="end">1.5</text>
<line x1="324.2" y1="2168.7" x2="324.2" y2="2178.7" stroke="#000" stroke-width="3.5" stroke-linecap="butt"/>
<line x1="413.55" y1="2168.7" x2="413.55" y2="2178.7" stroke="#000" stroke-width="3.5" stroke-linecap="butt"/>
<line x1="502.9" y1="2168.7" x2="502.9" y2="2178.7" stroke="#000" stroke-width="3.5" stroke-linecap="butt"/>
<line x1="592.25" y1="2168.7" x2="592.25" y2="2178.7" stroke="#000" stroke-width="3.5" stroke-linecap="butt"/>
<line x1="681.6" y1="2168.7" x2="681.6" y2="2178.7" stroke="#000" stroke-width="3.5" stroke-linecap="butt"/>
<line x1="770.95" y1="2168.7" x2="770.95" y2="2178.7" stroke="#000" stroke-width="3.5" stroke-linecap="butt"/>
<text class="s" transform="translate(333.38 2207.27) rotate(-45) scale(1 1.04)" font-size="39.25" text-anchor="end">Ctrl</text>
<text class="s" transform="translate(422.73 2207.27) rotate(-45) scale(1 1.04)" font-size="39.25" text-anchor="end">LPS</text>
<text class="s" transform="translate(512.08 2207.27) rotate(-45) scale(1 1.04)" font-size="39.25" text-anchor="end">LPS+IRAK Inhi</text>
<text class="s" transform="translate(601.43 2207.27) rotate(-45) scale(1 1.04)" font-size="39.25" text-anchor="end">Ctrl</text>
<text class="s" transform="translate(690.78 2207.27) rotate(-45) scale(1 1.04)" font-size="39.25" text-anchor="end">LPS</text>
<text class="s" transform="translate(780.13 2207.27) rotate(-45) scale(1 1.04)" font-size="39.25" text-anchor="end">LPS+IRAK Inhi</text>
<line x1="321.9" y1="2414.4" x2="502.1" y2="2414.4" stroke="#000" stroke-width="1.3" stroke-linecap="butt"/>
<polygon points="296.1,2414.4 322.9,2403.9 322.9,2424.9" fill="#000"/>
<polygon points="527.9,2414.4 501.1,2403.9 501.1,2424.9" fill="#000"/>
<line x1="589.8" y1="2414.9" x2="768.4" y2="2414.9" stroke="#000" stroke-width="2.2" stroke-linecap="butt"/>
<polygon points="564,2414.9 590.8,2404.4 590.8,2425.4" fill="#000"/>
<polygon points="794.2,2414.9 767.4,2404.4 767.4,2425.4" fill="#000"/>
<text class="s" transform="translate(397.7 2476.6) scale(1 1.083)" font-size="48.6" text-anchor="middle">NHBF</text>
<text class="s" transform="translate(672.1 2476.6) scale(1 1.083)" font-size="48.6" text-anchor="middle">DHBF</text>
<text class="s" transform="translate(156.9 1989.4) rotate(-90) scale(1 1.09)" font-size="37.85" text-anchor="middle">Fold Expression Change</text>
<text class="s" transform="translate(207.4 1989.4) rotate(-90) scale(1 1.09)" font-size="37.85" text-anchor="middle">(2^-<tspan style="font-weight:normal" letter-spacing="0.38">ΔΔ</tspan>Ct)</text>
<text class="s" transform="translate(547 1732) scale(1 1.082)" font-size="48.5" text-anchor="middle">COL1A1</text>
<rect x="1062.3" y="1927.8" width="64.8" height="241.3" fill="#00C100"/>
<rect x="1151.93" y="1919.9" width="64.8" height="249.2" fill="#00C100"/>
<rect x="1241.56" y="2067.8" width="64.8" height="101.3" fill="#00C100"/>
<rect x="1331.19" y="1927.8" width="64.8" height="241.3" fill="#FF0000"/>
<rect x="1420.82" y="1977" width="64.8" height="192.1" fill="#FF0000"/>
<rect x="1510.45" y="1970" width="64.8" height="199.1" fill="#FF0000"/>
<line x1="1184.33" y1="1895.8" x2="1184.33" y2="1922.9" stroke="#000" stroke-width="3.4" stroke-linecap="butt"/>
<line x1="1169.43" y1="1895.8" x2="1199.23" y2="1895.8" stroke="#000" stroke-width="3.4" stroke-linecap="butt"/>
<line x1="1273.96" y1="2029.9" x2="1273.96" y2="2070.8" stroke="#000" stroke-width="3.4" stroke-linecap="butt"/>
<line x1="1259.06" y1="2029.9" x2="1288.86" y2="2029.9" stroke="#000" stroke-width="3.4" stroke-linecap="butt"/>
<line x1="1453.22" y1="1925" x2="1453.22" y2="1980" stroke="#000" stroke-width="3.4" stroke-linecap="butt"/>
<line x1="1438.32" y1="1925" x2="1468.12" y2="1925" stroke="#000" stroke-width="3.4" stroke-linecap="butt"/>
<line x1="1542.85" y1="1942" x2="1542.85" y2="1973" stroke="#000" stroke-width="3.4" stroke-linecap="butt"/>
<line x1="1527.95" y1="1942" x2="1557.75" y2="1942" stroke="#000" stroke-width="3.4" stroke-linecap="butt"/>
<line x1="1050.4" y1="1809.6" x2="1050.4" y2="2171.1" stroke="#000" stroke-width="4" stroke-linecap="butt"/>
<line x1="1040.3" y1="2169.1" x2="1589.8" y2="2169.1" stroke="#000" stroke-width="4" stroke-linecap="butt"/>
<text class="s" transform="translate(1034.4 2176.09) scale(1 1.08)" font-size="25" text-anchor="end">0.0</text>
<line x1="1040.3" y1="2049.93" x2="1050.4" y2="2049.93" stroke="#000" stroke-width="4" stroke-linecap="butt"/>
<text class="s" transform="translate(1034.4 2056.92) scale(1 1.08)" font-size="25" text-anchor="end">0.5</text>
<line x1="1040.3" y1="1930.77" x2="1050.4" y2="1930.77" stroke="#000" stroke-width="4" stroke-linecap="butt"/>
<text class="s" transform="translate(1034.4 1937.75) scale(1 1.08)" font-size="25" text-anchor="end">1.0</text>
<line x1="1040.3" y1="1811.6" x2="1050.4" y2="1811.6" stroke="#000" stroke-width="4" stroke-linecap="butt"/>
<text class="s" transform="translate(1034.4 1818.59) scale(1 1.08)" font-size="25" text-anchor="end">1.5</text>
<line x1="1094.7" y1="2169.1" x2="1094.7" y2="2179.1" stroke="#000" stroke-width="3.5" stroke-linecap="butt"/>
<line x1="1184.33" y1="2169.1" x2="1184.33" y2="2179.1" stroke="#000" stroke-width="3.5" stroke-linecap="butt"/>
<line x1="1273.96" y1="2169.1" x2="1273.96" y2="2179.1" stroke="#000" stroke-width="3.5" stroke-linecap="butt"/>
<line x1="1363.59" y1="2169.1" x2="1363.59" y2="2179.1" stroke="#000" stroke-width="3.5" stroke-linecap="butt"/>
<line x1="1453.22" y1="2169.1" x2="1453.22" y2="2179.1" stroke="#000" stroke-width="3.5" stroke-linecap="butt"/>
<line x1="1542.85" y1="2169.1" x2="1542.85" y2="2179.1" stroke="#000" stroke-width="3.5" stroke-linecap="butt"/>
<text class="s" transform="translate(1103.9 2207.57) rotate(-45) scale(1 1.04)" font-size="39.25" text-anchor="end">Ctrl</text>
<text class="s" transform="translate(1193.53 2207.57) rotate(-45) scale(1 1.04)" font-size="39.25" text-anchor="end">LPS</text>
<text class="s" transform="translate(1283.16 2207.57) rotate(-45) scale(1 1.04)" font-size="39.25" text-anchor="end">LPS+IRAK Inhi</text>
<text class="s" transform="translate(1372.79 2207.57) rotate(-45) scale(1 1.04)" font-size="39.25" text-anchor="end">Ctrl</text>
<text class="s" transform="translate(1462.42 2207.57) rotate(-45) scale(1 1.04)" font-size="39.25" text-anchor="end">LPS</text>
<text class="s" transform="translate(1552.05 2207.57) rotate(-45) scale(1 1.04)" font-size="39.25" text-anchor="end">LPS+IRAK Inhi</text>
<line x1="1093.2" y1="2413.3" x2="1273.2" y2="2413.3" stroke="#000" stroke-width="1.8" stroke-linecap="butt"/>
<polygon points="1067.4,2413.3 1094.2,2402.8 1094.2,2423.8" fill="#000"/>
<polygon points="1299,2413.3 1272.2,2402.8 1272.2,2423.8" fill="#000"/>
<line x1="1360.6" y1="2413.8" x2="1540.3" y2="2413.8" stroke="#000" stroke-width="2.2" stroke-linecap="butt"/>
<polygon points="1334.8,2413.8 1361.6,2403.3 1361.6,2424.3" fill="#000"/>
<polygon points="1566.1,2413.8 1539.3,2403.3 1539.3,2424.3" fill="#000"/>
<text class="s" transform="translate(1178.8 2476) scale(1 1.083)" font-size="48.6" text-anchor="middle">NHBF</text>
<text class="s" transform="translate(1442.1 2476) scale(1 1.083)" font-size="48.6" text-anchor="middle">DHBF</text>
<text class="s" transform="translate(927.1 1989.4) rotate(-90) scale(1 1.09)" font-size="37.85" text-anchor="middle">Fold Expression Change</text>
<text class="s" transform="translate(977.6 1989.4) rotate(-90) scale(1 1.09)" font-size="37.85" text-anchor="middle">(2^-<tspan style="font-weight:normal" letter-spacing="0.38">ΔΔ</tspan>Ct)</text>
<text class="s" transform="translate(1317.3 1732.1) scale(1 1.082)" font-size="48.3" text-anchor="middle">COL5A1</text>
<line x1="1088.5" y1="1814.8" x2="1270.6" y2="1814.8" stroke="#000" stroke-width="3.8" stroke-linecap="butt"/>
<line x1="1088.5" y1="1798.8" x2="1088.5" y2="1830.7" stroke="#000" stroke-width="3.8" stroke-linecap="butt"/>
<line x1="1270.6" y1="1798.8" x2="1270.6" y2="1830.7" stroke="#000" stroke-width="3.8" stroke-linecap="butt"/>
<line x1="1183.1" y1="1872.8" x2="1272.6" y2="1872.8" stroke="#000" stroke-width="3.3" stroke-linecap="butt"/>
<line x1="1183.1" y1="1855.7" x2="1183.1" y2="1887.7" stroke="#000" stroke-width="3.3" stroke-linecap="butt"/>
<line x1="1272.6" y1="1855.7" x2="1272.6" y2="1887.7" stroke="#000" stroke-width="3.3" stroke-linecap="butt"/>
<text class="s" transform="translate(1175.1 1808.63) scale(1 1.04)" font-size="28.69" text-anchor="middle">**</text>
<text class="s" transform="translate(1225.4 1866.23) scale(1 1.04)" font-size="28.69" text-anchor="middle">***</text>
<rect x="1838.7" y="1983" width="66.6" height="186.1" fill="#00C100"/>
<rect x="1930.4" y="1963.8" width="66.6" height="205.3" fill="#00C100"/>
<rect x="2022.1" y="2044" width="66.6" height="125.1" fill="#00C100"/>
<rect x="2113.8" y="1983" width="66.6" height="186.1" fill="#FF0000"/>
<rect x="2205.5" y="1961.2" width="66.6" height="207.9" fill="#FF0000"/>
<rect x="2297.2" y="1971.2" width="66.6" height="197.9" fill="#FF0000"/>
<line x1="1963.7" y1="1930.3" x2="1963.7" y2="1966.8" stroke="#000" stroke-width="3.4" stroke-linecap="butt"/>
<line x1="1948.4" y1="1930.3" x2="1979" y2="1930.3" stroke="#000" stroke-width="3.4" stroke-linecap="butt"/>
<line x1="2055.4" y1="2017.7" x2="2055.4" y2="2047" stroke="#000" stroke-width="3.4" stroke-linecap="butt"/>
<line x1="2040.1" y1="2017.7" x2="2070.7" y2="2017.7" stroke="#000" stroke-width="3.4" stroke-linecap="butt"/>
<line x1="2238.8" y1="1906" x2="2238.8" y2="1964.2" stroke="#000" stroke-width="3.4" stroke-linecap="butt"/>
<line x1="2223.5" y1="1906" x2="2254.1" y2="1906" stroke="#000" stroke-width="3.4" stroke-linecap="butt"/>
<line x1="2330.5" y1="1904.1" x2="2330.5" y2="1974.2" stroke="#000" stroke-width="3.4" stroke-linecap="butt"/>
<line x1="2315.2" y1="1904.1" x2="2345.8" y2="1904.1" stroke="#000" stroke-width="3.4" stroke-linecap="butt"/>
<line x1="1826.1" y1="1799.3" x2="1826.1" y2="2171.1" stroke="#000" stroke-width="4" stroke-linecap="butt"/>
<line x1="1816.1" y1="2169.1" x2="2377.7" y2="2169.1" stroke="#000" stroke-width="4" stroke-linecap="butt"/>
<text class="s" transform="translate(1810.6 2178.16) scale(1 1.08)" font-size="26" text-anchor="end">0.0</text>
<line x1="1816.1" y1="2077.15" x2="1826.1" y2="2077.15" stroke="#000" stroke-width="4" stroke-linecap="butt"/>
<text class="s" transform="translate(1810.6 2086.21) scale(1 1.08)" font-size="26" text-anchor="end">0.5</text>
<line x1="1816.1" y1="1985.2" x2="1826.1" y2="1985.2" stroke="#000" stroke-width="4" stroke-linecap="butt"/>
<text class="s" transform="translate(1810.6 1994.26) scale(1 1.08)" font-size="26" text-anchor="end">1.0</text>
<line x1="1816.1" y1="1893.25" x2="1826.1" y2="1893.25" stroke="#000" stroke-width="4" stroke-linecap="butt"/>
<text class="s" transform="translate(1810.6 1902.31) scale(1 1.08)" font-size="26" text-anchor="end">1.5</text>
<line x1="1816.1" y1="1801.3" x2="1826.1" y2="1801.3" stroke="#000" stroke-width="4" stroke-linecap="butt"/>
<text class="s" transform="translate(1810.6 1810.36) scale(1 1.08)" font-size="26" text-anchor="end">2.0</text>
<line x1="1872" y1="2169.1" x2="1872" y2="2179.1" stroke="#000" stroke-width="3.5" stroke-linecap="butt"/>
<line x1="1963.7" y1="2169.1" x2="1963.7" y2="2179.1" stroke="#000" stroke-width="3.5" stroke-linecap="butt"/>
<line x1="2055.4" y1="2169.1" x2="2055.4" y2="2179.1" stroke="#000" stroke-width="3.5" stroke-linecap="butt"/>
<line x1="2147.1" y1="2169.1" x2="2147.1" y2="2179.1" stroke="#000" stroke-width="3.5" stroke-linecap="butt"/>
<line x1="2238.8" y1="2169.1" x2="2238.8" y2="2179.1" stroke="#000" stroke-width="3.5" stroke-linecap="butt"/>
<line x1="2330.5" y1="2169.1" x2="2330.5" y2="2179.1" stroke="#000" stroke-width="3.5" stroke-linecap="butt"/>
<text class="s" transform="translate(1881.24 2207.8) rotate(-45) scale(1 1.04)" font-size="40.4" text-anchor="end">Ctrl</text>
<text class="s" transform="translate(1972.94 2207.8) rotate(-45) scale(1 1.04)" font-size="40.4" text-anchor="end">LPS</text>
<text class="s" transform="translate(2064.64 2207.8) rotate(-45) scale(1 1.04)" font-size="40.4" text-anchor="end">LPS+IRAK Inhi</text>
<text class="s" transform="translate(2156.34 2207.8) rotate(-45) scale(1 1.04)" font-size="40.4" text-anchor="end">Ctrl</text>
<text class="s" transform="translate(2248.04 2207.8) rotate(-45) scale(1 1.04)" font-size="40.4" text-anchor="end">LPS</text>
<text class="s" transform="translate(2339.74 2207.8) rotate(-45) scale(1 1.04)" font-size="40.4" text-anchor="end">LPS+IRAK Inhi</text>
<line x1="1869" y1="2414.7" x2="2054.2" y2="2414.7" stroke="#000" stroke-width="1.9" stroke-linecap="butt"/>
<polygon points="1843.1,2414.7 1870,2403.7 1870,2425.7" fill="#000"/>
<polygon points="2080.1,2414.7 2053.2,2403.7 2053.2,2425.7" fill="#000"/>
<line x1="2142" y1="2415.4" x2="2328.5" y2="2415.4" stroke="#000" stroke-width="1.2" stroke-linecap="butt"/>
<polygon points="2116.1,2415.4 2143,2404.4 2143,2426.4" fill="#000"/>
<polygon points="2354.4,2415.4 2327.5,2404.4 2327.5,2426.4" fill="#000"/>
<text class="s" transform="translate(1952.2 2477.2) scale(1 1.06)" font-size="50" text-anchor="middle">NHBF</text>
<text class="s" transform="translate(2221.7 2477.2) scale(1 1.06)" font-size="50" text-anchor="middle">DHBF</text>
<text class="s" transform="translate(1698.6 1985) rotate(-90) scale(1 1.09)" font-size="39" text-anchor="middle">Fold Expression Change</text>
<text class="s" transform="translate(1752 1985) rotate(-90) scale(1 1.09)" font-size="39" text-anchor="middle">(2^-<tspan style="font-weight:normal" letter-spacing="1.17">ΔΔ</tspan>Ct)</text>
<text class="s" transform="translate(2101.5 1720.8) scale(1 1.057)" font-size="51" text-anchor="middle">FN1</text>
</svg>
</body>
</html>
